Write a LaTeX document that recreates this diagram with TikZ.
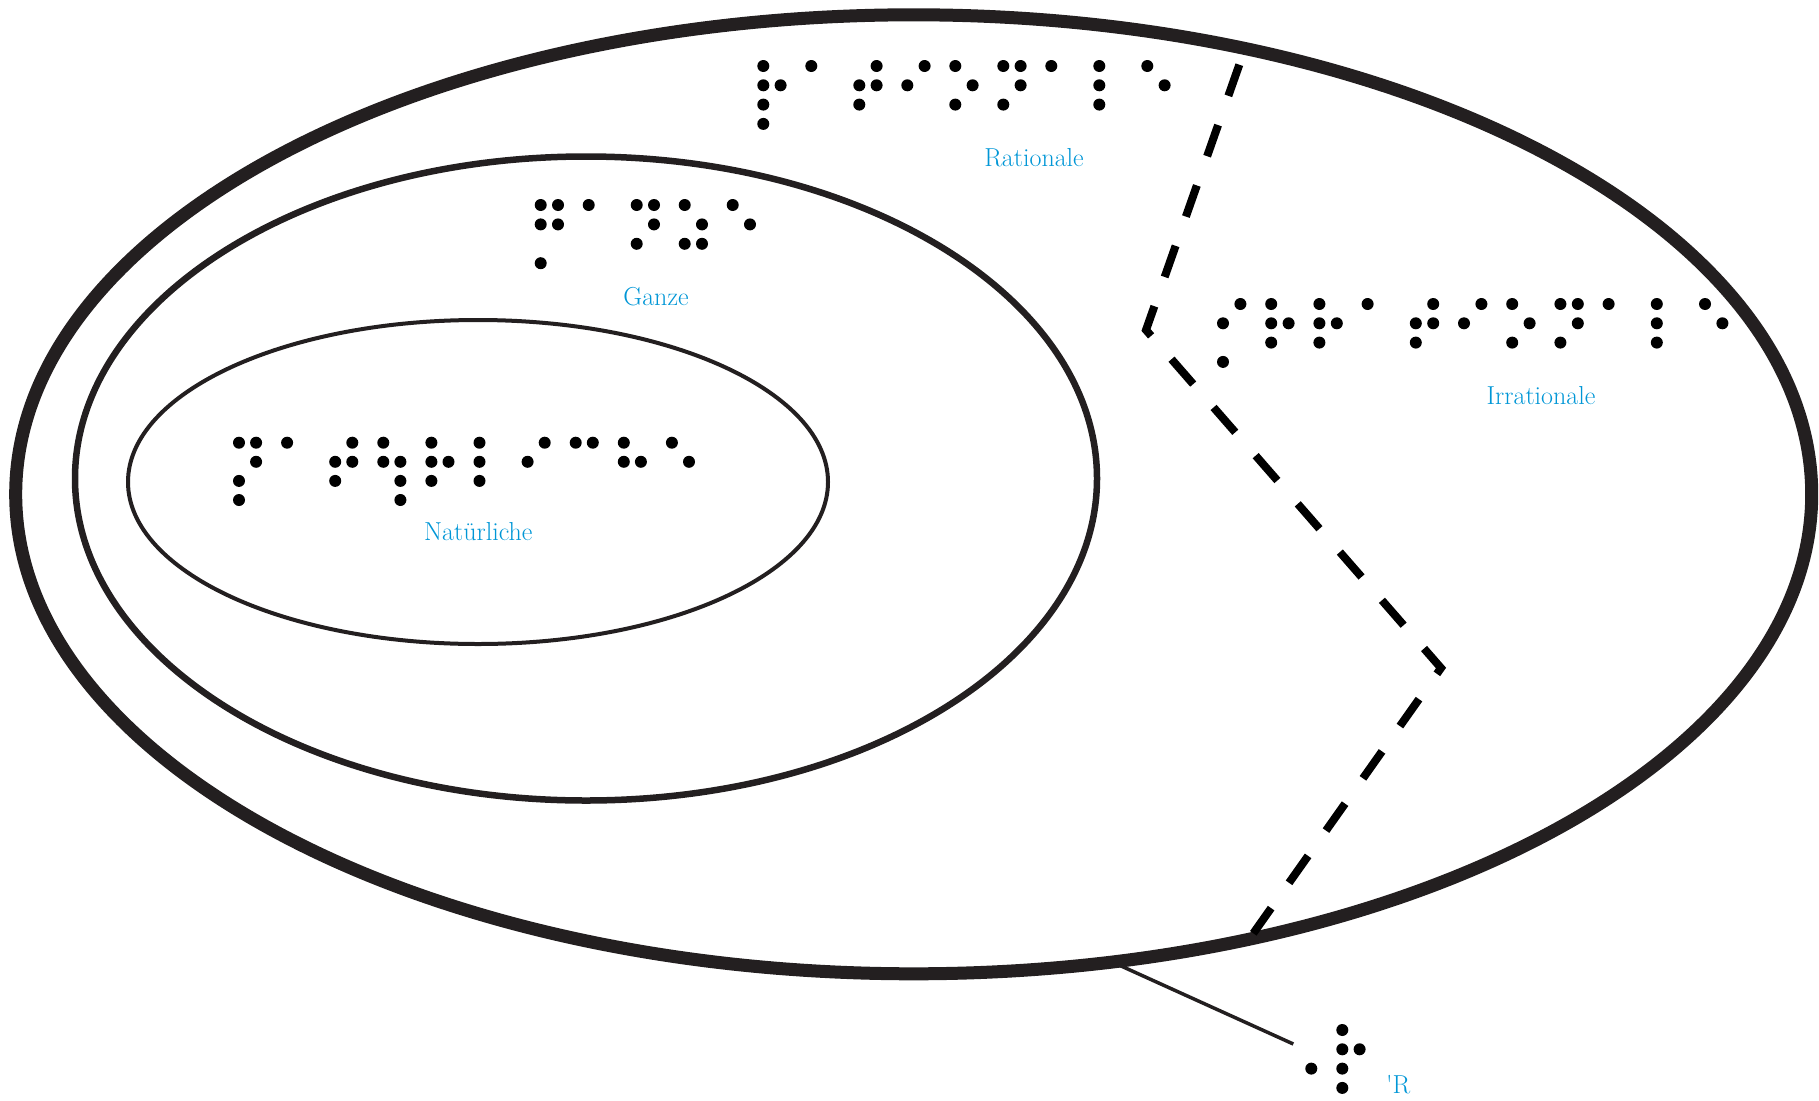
\documentclass[tikz,border=0pt]{standalone}
\usepackage{fontspec}
\definecolor{ink}{RGB}{35,31,32}
\definecolor{labelblue}{RGB}{0,150,214}
\tikzset{
  brailledot/.style={fill=black},
  setlabel/.style={text=labelblue, font=\fontsize{26}{30}\selectfont, anchor=base, inner sep=0pt},
  setrim/.style={draw=ink},
}
% braille word: x, y, cell pitch, column gap, row gap, cells (8-dot numbers)
\newcommand{\brailleword}[6]{%
  \foreach \cell [count=\i from 0] in {#6} {
    \foreach \d in \cell {
      \pgfmathsetmacro{\cx}{{0,0,0,0,1,1,1,0,1}[\d]}
      \pgfmathsetmacro{\cy}{{0,0,1,2,0,1,2,3,3}[\d]}
      \fill[brailledot] (#1+\i*#3+\cx*#4, #2+\cy*#5) circle (6pt);
    }
  }
}
\begin{document}
\begin{tikzpicture}[x=1pt, y=-1pt]
    \useasboundingbox (0,0) rectangle (1819,1100);

    % Sets
    \draw[setrim, line width=13pt] (913.7,494.3) ellipse [x radius=898, y radius=479.5];
    \draw[setrim, line width=6.5pt] (586,478.5) ellipse [x radius=511, y radius=322];
    \draw[setrim, line width=4pt] (478,482) ellipse [x radius=350, y radius=162];

    % Border rational / irrational
    \draw[line width=8pt, dash pattern=on 33pt off 31pt]
        (1239.3,64.7) -- (1146,330) -- (1441,668) -- (1253.3,933.3);

    % Braille and labels
    \brailleword{763.3}{66}{48}{17.3}{19.3}{{1,2,3,5,7},{1},{2,3,4,5},{2,4},{1,3,5},{1,3,4,5},{1},{1,2,3},{1,5}}
    \node[setlabel] (rationale) at (1034,166) {Rationale};

    \brailleword{540.7}{205}{48}{17.3}{19.4}{{1,2,4,5,7},{1},{1,3,4,5},{1,3,5,6},{1,5}}
    \node[setlabel] (ganze) at (656,305) {Ganze};

    \brailleword{239}{442.7}{48.1}{17.1}{19.1}{{1,3,4,5,7},{1},{2,3,4,5},{1,2,5,6,8},{1,2,3,5},{1,2,3},{2,4},{1,4},{1,2,5},{1,5}}
    \node[setlabel] (natuerliche) at (478.3,540.7) {Natürliche};

    \brailleword{1223}{304}{48.2}{17.4}{19.3}{{2,4,7},{1,2,3,5},{1,2,3,5},{1},{2,3,4,5},{2,4},{1,3,5},{1,3,4,5},{1},{1,2,3},{1,5}}
    \node[setlabel] (irrationale) at (1541,404) {Irrationale};

    % Real numbers
    \coordinate (rim) at (1116.7,964);
    \coordinate (realtag) at (1293.3,1044);
    \draw[ink, line width=3.5pt] (rim) -- (realtag);
    \brailleword{1294}{1030}{48.3}{17.3}{19.3}{{6},{1,2,3,5,7}}
    \node[setlabel, anchor=base west] (reals) at (1386,1093.3) {\textquotesingle R};
\end{tikzpicture}
\end{document}
